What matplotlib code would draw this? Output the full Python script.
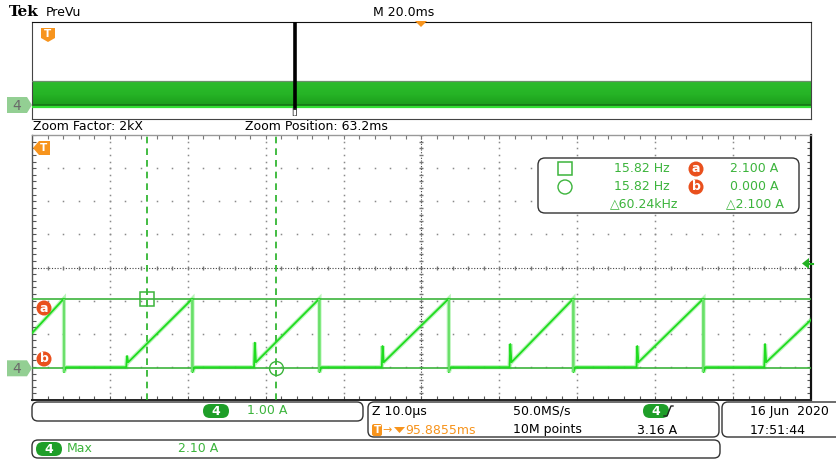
import numpy as np
import matplotlib
matplotlib.use("Agg")
import matplotlib.pyplot as plt
from matplotlib.patches import FancyBboxPatch, Polygon, Circle, Rectangle

# zoomed window: 10 us/div, 1 A/div
drop_us = [4.1, 20.6, 36.9, 53.5, 69.5, 86.2]      # switch-off edges
rise_us = [12.2, 28.6, 45.0, 61.4, 77.7, 94.1]     # ramp starts
spike_a = [0.37, 0.77, 0.67, 0.73, 0.67, 0.73]     # turn-on spike height
start_a, end_a = 1.06, 1.46                        # trace value at window edges
peak_a, base_a, flat_a, under_a = 2.10, 0.18, 0.03, -0.12

cursor_us = [14.72, 31.32]      # vertical cursors (square / circle)
cursor_a = [2.100, 0.000]       # horizontal cursors a / b
trig_a = 3.16
prevu_zoom_ms = 67.5

meas_rows = [("15.82 Hz", "a", "2.100 A"), ("15.82 Hz", "b", "0.000 A")]
meas_delta = ("\u25b360.24kHz", "\u25b32.100 A")

GREEN = "#3cb43c"
TRACE = "#1fdc1f"
ORANGE = "#f7941d"
RED = "#e9501d"
PILL = "#1e9e28"
TAG = "#93cf93"

W, H = 836, 459
fig = plt.figure(figsize=(W / 100, H / 100), dpi=100)


def px_axes(x0, y0, x1, y1):
    return fig.add_axes([x0 / W, (H - y1) / H, (x1 - x0) / W, (y1 - y0) / H])


# ---- main zoomed graticule
ax = px_axes(32, 135, 811, 400)
X0, X1, Y0, Y1 = 0, 100, -0.96, 7.04
ax.set_xlim(X0, X1); ax.set_ylim(Y0, Y1)
ax.set_xticks([]); ax.set_yticks([])
for side, c, lw in (("left", "#555555", 1.0), ("top", "#999999", 1.0),
                    ("right", "#111111", 1.6), ("bottom", "#222222", 1.4)):
    ax.spines[side].set_color(c); ax.spines[side].set_linewidth(lw)

xs_minor = np.arange(X0, X1 + 0.01, 2.0)
ys_minor = Y0 + np.arange(0, 8.01, 0.2)
dot = dict(ls="none", marker="s", ms=1.1, color="#8a8a8a", mew=0)
for xm in range(10, 100, 10):
    if xm != 50:
        ax.plot(np.full_like(ys_minor, xm), ys_minor, **dot)
for k in range(1, 8):
    if k != 4:
        ax.plot(xs_minor, np.full_like(xs_minor, Y0 + k), **dot)
yc = Y0 + 4
ax.plot([X0, X1], [yc, yc], ls=(0, (1, 1.5)), color="#444444", lw=0.8)
ax.plot(xs_minor, np.full_like(xs_minor, yc), ls="none", marker="|", ms=3.5, color="#777777")
ax.plot([50, 50], [Y0, Y1], ls=(0, (1, 1.5)), color="#444444", lw=0.8)
ax.plot(np.full_like(ys_minor, 50), ys_minor, ls="none", marker="_", ms=3.5, color="#777777")
# edge ticks
tx, ty = 0.45, 0.12
ax.vlines(xs_minor, Y1 - ty, Y1, color="#777777", lw=0.8)
ax.vlines(xs_minor, Y0, Y0 + ty, color="#555555", lw=0.8)
ax.hlines(ys_minor, X0, X0 + tx, color="#555555", lw=0.8)
ax.hlines(ys_minor, X1 - tx, X1, color="#555555", lw=0.8)

# cursors
for a in cursor_a:
    ax.axhline(a, color=GREEN, lw=1.2, zorder=3)
for t in cursor_us:
    ax.axvline(t, color="#22b022", lw=1.2, ls=(0, (4, 3)), zorder=3)
ax.plot(cursor_us[0], cursor_a[0], marker="s", ms=10, mfc="none", mec=GREEN, mew=1.1, zorder=4)
ax.plot(cursor_us[1], cursor_a[1], marker="o", ms=10, mfc="none", mec=GREEN, mew=1.0, zorder=4)

# sawtooth current trace
t_pts, i_pts = [X0], [start_a]
edges = sorted([(d, "drop") for d in drop_us] + [(r, "rise", s) for r, s in zip(rise_us, spike_a)])
for e in edges:
    if e[1] == "drop":
        t_pts += [e[0], e[0], e[0] + 0.25]
        i_pts += [peak_a, under_a, flat_a]
    else:
        t_pts += [e[0] - 0.1, e[0], e[0] + 0.15]
        i_pts += [flat_a, e[2], base_a]
t_pts.append(X1); i_pts.append(end_a)
ax.plot(t_pts, i_pts, color=TRACE, lw=3.0, alpha=0.3, zorder=5, solid_joinstyle="miter")
ax.plot(t_pts, i_pts, color=TRACE, lw=1.3, zorder=6)
ax.vlines(drop_us, under_a, peak_a, color="#72e072", lw=1.3, zorder=7)

# ---- PreVu record overview (20 ms/div)
pv = px_axes(32, 22, 811, 119)
pv.set_xlim(0, 200); pv.set_ylim(-1.03, 6.97)
pv.set_xticks([]); pv.set_yticks([])
pv.spines["top"].set_color("#111111")
for side in ("left", "right", "bottom"):
    pv.spines[side].set_color("#444444")
grad = np.linspace(0, 1, 50)[:, None]
band = plt.matplotlib.colors.LinearSegmentedColormap.from_list("band", ["#1a9a1a", "#26b426", "#2cbc2c"])
pv.imshow(grad, extent=(0, 200, 0, peak_a), origin="lower", aspect="auto", cmap=band, zorder=1)
pv.fill_between([0, 200], 0, 0.2, color="#177a17", zorder=2, lw=0)
pv.plot([0, 200], [peak_a, peak_a], color="#6b8f6b", lw=0.9, zorder=3)
pv.plot([0, 200], [0, 0], color="#33e033", lw=1.6, zorder=3)
pv.plot([prevu_zoom_ms] * 2, [-0.1, 6.85], color="black", lw=2.6, zorder=4)

# ---- screen annotations in pixel space
ov = fig.add_axes([0, 0, 1, 1])
ov.set_xlim(0, W); ov.set_ylim(H, 0); ov.axis("off")

def txt(x, y, s, c="black", fs=9, **kw):
    ov.text(x, y, s, color=c, fontsize=fs, va="center", **kw)

def rbox(x0, y0, x1, y1, r=6, fc="none"):
    ov.add_patch(FancyBboxPatch((x0, y0), x1 - x0, y1 - y0, boxstyle=f"round,pad=0,rounding_size={r}",
                                fc=fc, ec="#333333", lw=1.0, clip_on=False))

def pill(x, y, s="4"):
    ov.add_patch(FancyBboxPatch((x - 13, y - 7), 26, 14, boxstyle="round,pad=0,rounding_size=7",
                                fc=PILL, ec="none"))
    ov.text(x, y + 0.5, s, color="white", fontsize=9, fontweight="bold", ha="center", va="center")

def badge(x, y, s):
    ov.add_patch(Circle((x, y), 7.5, fc=RED, ec="none"))
    ov.text(x, y, s, color="white", fontsize=9, fontweight="bold", ha="center", va="center")

def ch_tag(y, x0=7):
    ov.add_patch(Polygon([(x0, y - 8), (x0 + 20, y - 8), (x0 + 25, y), (x0 + 20, y + 8), (x0, y + 8)],
                         closed=True, fc=TAG, ec="none"))
    ov.text(x0 + 10, y + 0.5, "4", color="#6a6a6a", fontsize=10, ha="center", va="center")

ov.text(9, 12, "Tek", fontsize=11, fontweight="bold", family="DejaVu Serif", va="center")
txt(46, 12, "PreVu")
txt(373, 12, "M 20.0ms")
txt(33, 127, "Zoom Factor: 2kX")
txt(245, 127, "Zoom Position: 63.2ms")
ov.add_patch(Polygon([(415, 21), (427, 21), (421, 27)], closed=True, fc=ORANGE, ec="none"))
ov.add_patch(Polygon([(41, 28), (55, 28), (55, 38), (48, 42), (41, 38)], closed=True, fc=ORANGE, ec="none"))
ov.text(48, 34, "T", color="white", fontsize=7.5, fontweight="bold", ha="center", va="center")
ov.text(295, 112, "[]", fontsize=6, ha="center", va="center", color="#333333")
ch_tag(105)

# main screen markers
ov.add_patch(Polygon([(33, 148), (39, 141), (50, 141), (50, 155), (39, 155)], closed=True, fc=ORANGE, ec="none"))
ov.text(44, 148, "T", color="white", fontsize=7.5, fontweight="bold", ha="center", va="center")
badge(44, 308, "a")
badge(44, 359, "b")
ch_tag(368.3)
ov.add_patch(Polygon([(802, 263.5), (809, 258), (809, 269)], closed=True, fc="#22b022", ec="none"))
ov.plot([808, 813], [263.5, 263.5], color="#22b022", lw=1.5)

# cursor readout
rbox(538, 158, 799, 213, r=7, fc="white")
ov.add_patch(Rectangle((558, 162), 14, 13, fc="none", ec=GREEN, lw=1.1))
ov.add_patch(Circle((565, 187), 7, fc="none", ec=GREEN, lw=1.0))
for (hz, lab, amp), y in zip(meas_rows, (169, 187)):
    txt(670, y, hz, GREEN, 9, ha="right")
    badge(696, y, lab)
    txt(778, y, amp, GREEN, 9, ha="right")
txt(678, 204, meas_delta[0], GREEN, 9, ha="right")
txt(784, 204, meas_delta[1], GREEN, 9, ha="right")

# bottom status panels
rbox(32, 402, 363, 421)
pill(216, 411)
txt(247, 411, "1.00 A", GREEN, 9)

rbox(368, 402, 719, 437)
txt(372, 411, "Z 10.0\u00b5s")
txt(513, 411, "50.0MS/s")
pill(656, 411)
ov.plot([664, 667, 671, 673], [416, 416, 406, 406], color="#222222", lw=1.0)
ov.add_patch(FancyBboxPatch((372, 424), 10, 12, boxstyle="round,pad=0,rounding_size=2", fc=ORANGE, ec="none"))
ov.text(377, 430, "T", color="white", fontsize=7.5, fontweight="bold", ha="center", va="center")
txt(382, 430, "\u2192", ORANGE, 8)
ov.add_patch(Polygon([(394, 427), (405, 427), (399.5, 433)], closed=True, fc=ORANGE, ec="none"))
txt(405, 430, "95.8855ms", ORANGE)
txt(513, 430, "10M points")
txt(637, 430, "3.16 A")

rbox(722, 402, 860, 437)
txt(750, 411, "16 Jun  2020")
txt(750, 430, "17:51:44")

rbox(32, 440, 720, 458)
pill(49, 449)
txt(67, 449, "Max", GREEN, 9)
txt(178, 449, "2.10 A", GREEN, 9)

fig.savefig("out.png", dpi=100)
